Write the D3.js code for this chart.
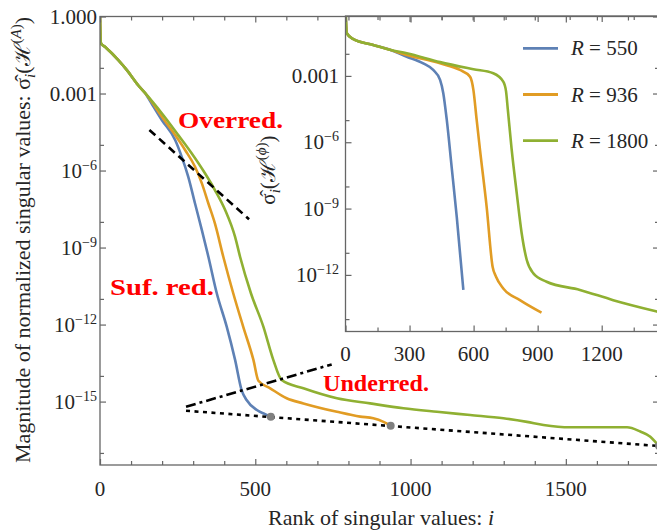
<!DOCTYPE html>
<html>
<head>
<meta charset="utf-8">
<script src="https://cdn.jsdelivr.net/npm/d3@7.9.0/dist/d3.min.js"></script>
<style>
  body { margin: 0; background: #fff; }
  svg { display: block; }
  text { font-family: "Liberation Serif", "DejaVu Serif", serif; fill: #262626; }
</style>
</head>
<body>
<svg id="chart" width="657" height="531"></svg>
<script>
// main plot: normalized singular values of H^(A), pairs of [rank i, value]
const mainHead = [[0, 1], [3, 9.1e-2], [16, 6.6e-2], [59, 2.0e-2], [86, 8.3e-3], [123, 2.1e-3], [145, 1.05e-3]];
const mainR550 = [[170, 3.4e-4], [199, 9.3e-5], [242, 1.55e-5], [263, 3.5e-6], [284, 5.8e-7], [306, 5.2e-8], [328, 4.8e-9],
  [349, 4.4e-10], [376, 1.66e-11], [408, 8.3e-13], [435, 4.2e-14], [456, 2.8e-15], [472, 1.15e-15],
  [505, 4.7e-16], [530, 3.3e-16], [550, 2.55e-16]];
const mainR936 = [[170, 4.2e-4], [199, 1.26e-4], [242, 2.4e-5], [274, 6.3e-6], [306, 1.41e-6], [328, 3.16e-7], [349, 5.2e-8],
  [370, 8.7e-9], [397, 4.4e-10], [429, 1.66e-11], [461, 8.3e-13], [494, 4.2e-14], [510, 6.5e-15],
  [548, 3.3e-15], [601, 1.35e-15], [655, 8.5e-16], [763, 4.0e-16], [838, 2.6e-16], [880, 2.24e-16],
  [913, 1.62e-16], [936, 1.15e-16]];
const mainR1800 = [[170, 4.6e-4], [199, 1.7e-4], [252, 2.4e-5], [295, 4.7e-6], [338, 7.8e-7], [370, 1.74e-7], [403, 2.9e-8],
  [435, 2.6e-9], [451, 4.4e-10], [486, 1.66e-11], [526, 8.3e-13], [558, 4.2e-14], [585, 6.9e-15],
  [655, 3.3e-15], [763, 1.35e-15], [870, 8.5e-16], [977, 5.5e-16], [1085, 4.0e-16], [1192, 3.0e-16],
  [1299, 2.24e-16], [1375, 1.62e-16], [1428, 1.23e-16], [1514, 1.0e-16], [1697, 1.0e-16],
  [1740, 6.8e-17], [1772, 4.3e-17], [1794, 2.24e-17], [1800, 1.86e-17]];

// inset: normalized singular values of H^(phi)
const insetHead = [[0, 1], [6, 8.5e-2], [37, 4.6e-2], [130, 2.5e-2], [208, 1.51e-2]];
const insetR550 = [[287, 7.4e-3], [364, 3.7e-3], [411, 1.86e-3], [443, 6.6e-4], [458, 1.66e-4],
  [474, 1.1e-5], [497, 7.9e-8], [521, 4.3e-10], [552, 2.1e-13]];
const insetR936 = [[287, 8.9e-3], [443, 3.7e-3], [536, 1.86e-3], [583, 9.3e-4], [599, 2.34e-4],
  [614, 1.1e-5], [630, 4.5e-7], [661, 1.23e-9], [689, 2.34e-12], [705, 8.3e-13], [739, 2.45e-13],
  [817, 7.2e-14], [918, 1.95e-14]];
const insetR1800 = [[287, 1.05e-2], [443, 4.2e-3], [599, 2.0e-3], [692, 1.32e-3], [739, 5.5e-4],
  [752, 2.0e-4], [760, 3.2e-5], [778, 5.0e-7], [802, 5.0e-9], [825, 7.9e-11], [849, 4.7e-12],
  [880, 1.17e-12], [942, 4.9e-13], [1098, 2.1e-13], [1254, 7.2e-14], [1459, 2.2e-14], [1800, 4.0e-15]];

const seriesNames = ["550", "936", "1800"];
const seriesColors = ["#5E81B5", "#E19C24", "#8FB032"];

// annotation guides [rank, value]
const overredLine = [[159, 3.8e-5], [480, 1.26e-8]];
const underredLine = [[277, 6.3e-16], [746, 2.8e-14]];
const suffLine = [[277, 4.4e-16], [1800, 1.86e-17]];

// ticks
const mainXTicks = [0, 500, 1000, 1500];
const mainXMinor = [100, 200, 300, 400, 600, 700, 800, 900, 1100, 1200, 1300, 1400, 1600, 1700];
const mainYTicks = [1, 1e-3, 1e-6, 1e-9, 1e-12, 1e-15];
const mainYMinor = [1e-2, 1e-5, 1e-8, 1e-11, 1e-14, 1e-17];
const insetXTicks = [0, 300, 600, 900, 1200, 1500];
const insetXLabels = [0, 300, 600, 900, 1200];
const insetXMinor = [150, 450, 750, 1050, 1350, 1650];
const insetYTicks = [1e-3, 1e-6, 1e-9, 1e-12];
const insetYMinor = [1e-2, 1e-5, 1e-8, 1e-11, 1e-14];

const svg = d3.select("#chart");
svg.append("rect").attr("width", 657).attr("height", 531).attr("fill", "#fff");

const frameColor = "#666";

// ---------- main plot ----------
const x = d3.scaleLinear().domain([0, 1800]).range([100, 659]);
const y = d3.scaleLog().domain([1, Math.pow(10, -17.47)]).range([16.5, 465]);

svg.append("clipPath").attr("id", "clipMain")
  .append("rect").attr("x", 100).attr("y", 16.5).attr("width", 559).attr("height", 448.5);

const line = d3.line().x(d => x(d[0])).y(d => y(d[1])).curve(d3.curveMonotoneX);
const mainData = [mainR550, mainR936, mainR1800].map(s => mainHead.concat(s));

const gMain = svg.append("g").attr("clip-path", "url(#clipMain)");
gMain.selectAll("path.main")
  .data(mainData)
  .join("path")
  .attr("class", "main")
  .attr("fill", "none")
  .attr("stroke", (_, k) => seriesColors[k])
  .attr("stroke-width", 2.6)
  .attr("stroke-linejoin", "round")
  .attr("d", line);

const plain = d3.line().x(d => x(d[0])).y(d => y(d[1]));
gMain.append("path").attr("d", plain(overredLine))
  .attr("stroke", "#000").attr("stroke-width", 2.6).attr("stroke-dasharray", "8,5").attr("fill", "none");
gMain.append("path").attr("d", plain(underredLine))
  .attr("stroke", "#000").attr("stroke-width", 2.6).attr("stroke-dasharray", "10,4,3,4").attr("fill", "none");
gMain.append("path").attr("d", plain(suffLine))
  .attr("stroke", "#000").attr("stroke-width", 2.6).attr("stroke-dasharray", "4,4.5").attr("fill", "none");

// grey dots at each series end
gMain.selectAll("circle.end")
  .data(mainData.map(s => s[s.length - 1]))
  .join("circle")
  .attr("class", "end")
  .attr("cx", d => x(d[0])).attr("cy", d => y(d[1])).attr("r", 4)
  .attr("fill", "#808080");

// frame and ticks (inward)
function frameTicks(g, xs, ys, xMaj, xMin, yMaj, yMin, maj, mnr) {
  const [x0, x1] = xs.range(), [y0, y1] = ys.range();
  g.append("rect").attr("x", x0).attr("y", y0).attr("width", x1 - x0).attr("height", y1 - y0)
    .attr("fill", "none").attr("stroke", frameColor).attr("stroke-width", 1.3);
  g.append("g").attr("transform", `translate(0,${y1})`)
    .call(d3.axisBottom(xs).tickValues(xMaj).tickSize(-maj).tickFormat(""));
  g.append("g").attr("transform", `translate(0,${y1})`)
    .call(d3.axisBottom(xs).tickValues(xMin).tickSize(-mnr).tickFormat(""));
  g.append("g").attr("transform", `translate(0,${y0})`)
    .call(d3.axisTop(xs).tickValues(xMaj).tickSize(-maj).tickFormat(""));
  g.append("g").attr("transform", `translate(0,${y0})`)
    .call(d3.axisTop(xs).tickValues(xMin).tickSize(-mnr).tickFormat(""));
  g.append("g").attr("transform", `translate(${x0},0)`)
    .call(d3.axisLeft(ys).tickValues(yMaj).tickSize(-maj).tickFormat(""));
  g.append("g").attr("transform", `translate(${x0},0)`)
    .call(d3.axisLeft(ys).tickValues(yMin).tickSize(-mnr).tickFormat(""));
  g.append("g").attr("transform", `translate(${x1},0)`)
    .call(d3.axisRight(ys).tickValues(yMaj).tickSize(-maj).tickFormat(""));
  g.append("g").attr("transform", `translate(${x1},0)`)
    .call(d3.axisRight(ys).tickValues(yMin).tickSize(-mnr).tickFormat(""));
  g.selectAll(".domain").remove();
  g.selectAll(".tick line").attr("stroke", frameColor).attr("stroke-width", 1.2);
}

const gMainAxes = svg.append("g");
frameTicks(gMainAxes, x, y, mainXTicks, mainXMinor, mainYTicks, mainYMinor, 6, 4);

function powLabel(g, v, px, py, anchor) {
  const t = g.append("text").attr("x", px).attr("y", py).attr("text-anchor", anchor)
    .style("font-size", "21px");
  if (v >= 1e-3) { t.text(v.toFixed(3)); return; }
  const e = Math.round(Math.log10(v));
  t.append("tspan").text("10");
  t.append("tspan").attr("dy", -8).style("font-size", "14px").text("\u2212" + (-e));
}

mainYTicks.forEach(v => powLabel(gMainAxes, v, 97, y(v) + 7, "end"));
gMainAxes.selectAll("text.xl")
  .data(mainXTicks)
  .join("text")
  .attr("class", "xl")
  .attr("x", d => x(d)).attr("y", 496)
  .attr("text-anchor", "middle")
  .style("font-size", "21px")
  .text(d => d);

// axis titles
const xTitle = svg.append("text").attr("x", 381).attr("y", 525).attr("text-anchor", "middle")
  .style("font-size", "22px");
xTitle.append("tspan").text("Rank of singular values: ");
xTitle.append("tspan").style("font-style", "italic").text("i");

function sigmaLabel(t, sup) {
  t.append("tspan").text("\u03C3\u0302");
  t.append("tspan").attr("dy", 5).style("font-size", "15px").style("font-style", "italic").text("i");
  t.append("tspan").attr("dy", -5).text("(\u210B");
  t.append("tspan").attr("dy", -9).style("font-size", "15px").text("(");
  t.append("tspan").style("font-size", "15px").style("font-style", "italic").text(sup);
  t.append("tspan").style("font-size", "15px").text(")");
  t.append("tspan").attr("dy", 9).text(")");
}

const yTitle = svg.append("text").attr("transform", "translate(30,240) rotate(-90)")
  .attr("text-anchor", "middle").style("font-size", "22px");
yTitle.append("tspan").text("Magnitude of normalized singular values: ");
sigmaLabel(yTitle, "A");

// red annotations
const noteSpec = [
  { text: "Overred.", x: 178, y: 128, w: 105 },
  { text: "Suf. red.", x: 110, y: 295, w: 104 },
  { text: "Underred.", x: 323, y: 391, w: 106 }
];
svg.selectAll("text.note")
  .data(noteSpec)
  .join("text")
  .attr("class", "note")
  .attr("x", d => d.x).attr("y", d => d.y)
  .attr("textLength", d => d.w).attr("lengthAdjust", "spacingAndGlyphs")
  .style("font-size", "24px").style("font-weight", "bold").style("fill", "#ff0000")
  .text(d => d.text);

// ---------- inset ----------
const xi = d3.scaleLinear().domain([0, 1800]).range([345.5, 729.8]);
const yi = d3.scaleLog().domain([Math.pow(10, -0.29), Math.pow(10, -14.56)]).range([16, 331.5]);

svg.append("clipPath").attr("id", "clipInset")
  .append("rect").attr("x", 345.5).attr("y", 16).attr("width", 384.3).attr("height", 315.5);

const lineI = d3.line().x(d => xi(d[0])).y(d => yi(d[1])).curve(d3.curveMonotoneX);
const insetData = [insetR550, insetR936, insetR1800].map(s => insetHead.concat(s));

svg.append("g").attr("clip-path", "url(#clipInset)")
  .selectAll("path")
  .data(insetData)
  .join("path")
  .attr("fill", "none")
  .attr("stroke", (_, k) => seriesColors[k])
  .attr("stroke-width", 2.6)
  .attr("stroke-linejoin", "round")
  .attr("d", lineI);

const gInsetAxes = svg.append("g");
frameTicks(gInsetAxes, xi, yi, insetXTicks, insetXMinor, insetYTicks, insetYMinor, 6, 4);
insetYTicks.forEach(v => powLabel(gInsetAxes, v, 339, yi(v) + 7, "end"));
gInsetAxes.selectAll("text.xl")
  .data(insetXLabels)
  .join("text")
  .attr("class", "xl")
  .attr("x", d => xi(d)).attr("y", 361)
  .attr("text-anchor", "middle")
  .style("font-size", "21px")
  .text(d => d);

const yiTitle = svg.append("text").attr("transform", "translate(275,170) rotate(-90)")
  .attr("text-anchor", "middle").style("font-size", "21px");
sigmaLabel(yiTitle, "\u03D5");

// legend
const legend = svg.append("g").selectAll("g")
  .data(seriesNames)
  .join("g")
  .attr("transform", (_, k) => `translate(523,${48.3 + k * 46.2})`);
legend.append("line").attr("x1", 0).attr("x2", 35)
  .attr("stroke", (_, k) => seriesColors[k]).attr("stroke-width", 2.8);
const lt = legend.append("text").attr("x", 48).attr("y", 7).style("font-size", "21px");
lt.append("tspan").style("font-style", "italic").text("R");
lt.append("tspan").text(d => " = " + d);
</script>
</body>
</html>
